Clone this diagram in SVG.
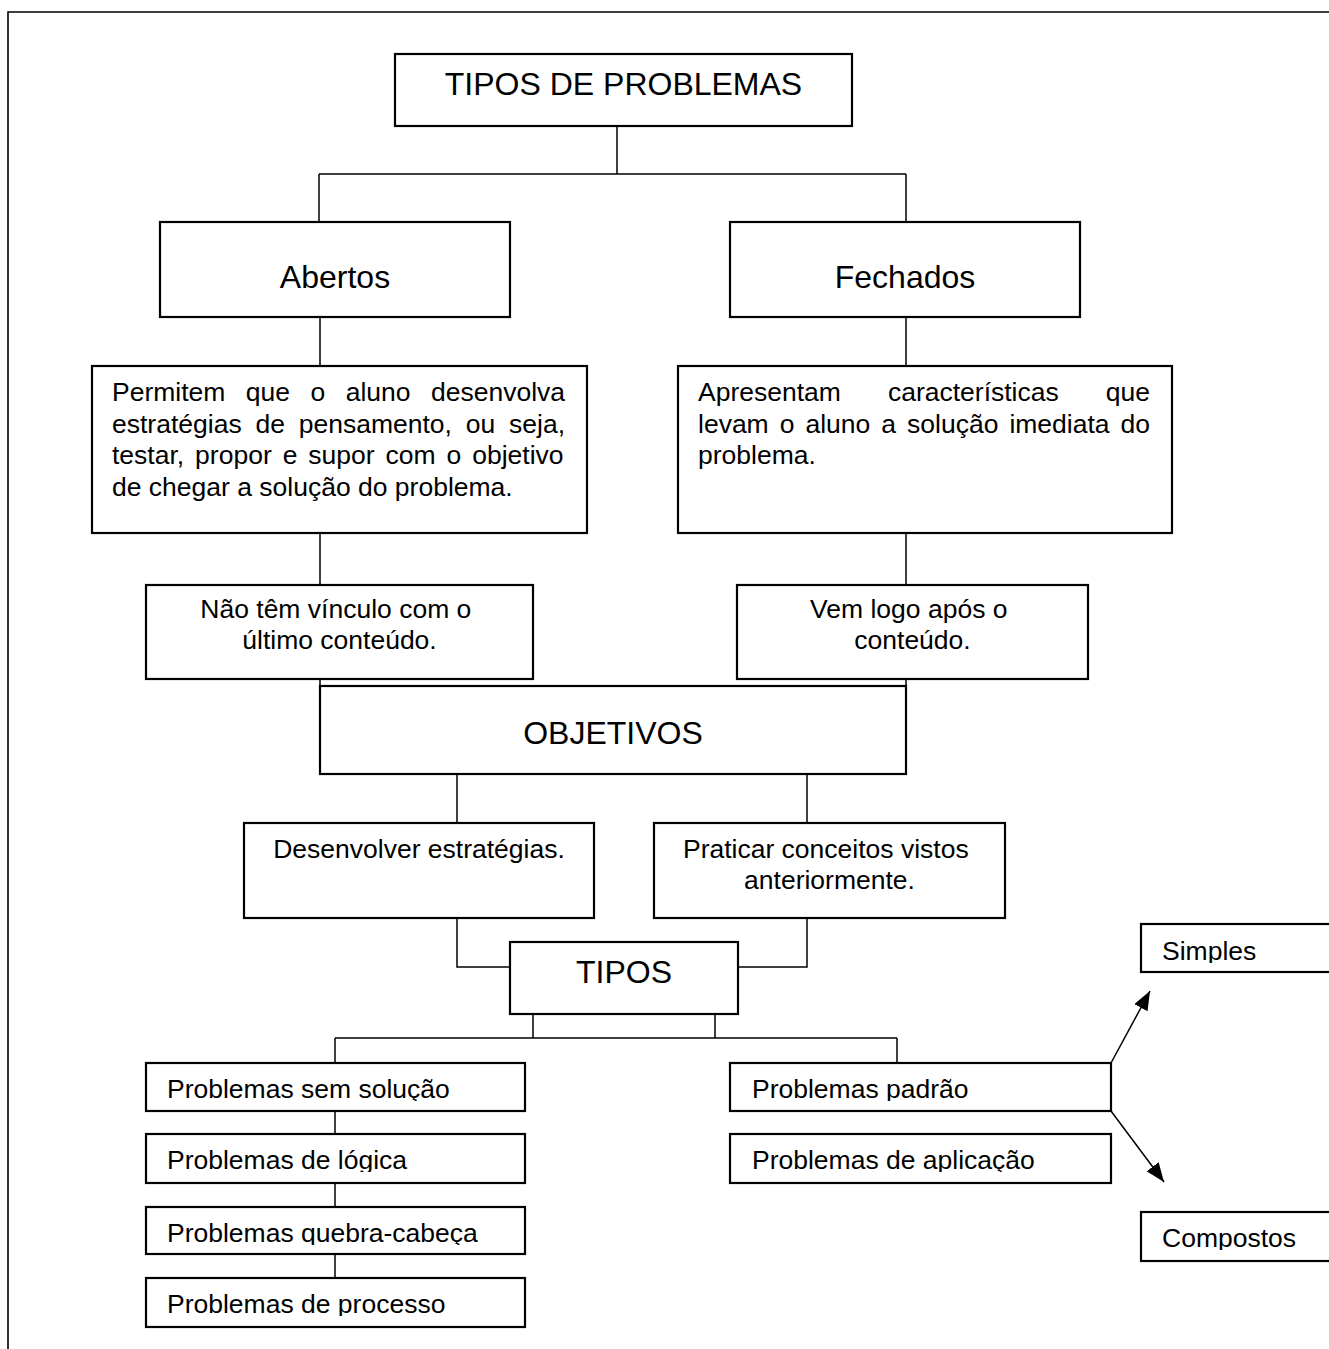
<svg xmlns="http://www.w3.org/2000/svg" width="1329" height="1349" viewBox="0 0 1329 1349">
  <style>
    .box { fill: #fff; stroke: #000; stroke-width: 2.2; }
    .wire { fill: none; stroke: #000; stroke-width: 1.5; }
    .frame { fill: none; stroke: #000; stroke-width: 1.6; }
    .big { font-family: "Liberation Sans", Arial, sans-serif; font-size: 32px; fill: #000; text-anchor: middle; }
    .body { font-family: "Liberation Sans", Arial, sans-serif; font-size: 26.5px; fill: #000; }
    .mid { text-anchor: middle; }
  </style>
  <defs>
    <marker id="arrowhead" markerUnits="userSpaceOnUse" markerWidth="22" markerHeight="16" refX="19" refY="7.5" orient="auto">
      <path d="M0,0 L19,7.5 L0,15 z" fill="#000"/>
    </marker>
    <!-- single-line boxes cut off their descenders -->
    <clipPath id="cut-r1" clipPathUnits="userSpaceOnUse"><rect x="0" y="1063" width="1329" height="38"/></clipPath>
    <clipPath id="cut-r2" clipPathUnits="userSpaceOnUse"><rect x="0" y="1134" width="1329" height="38"/></clipPath>
    <clipPath id="cut-r3" clipPathUnits="userSpaceOnUse"><rect x="0" y="1207" width="1329" height="38"/></clipPath>
    <clipPath id="cut-r4" clipPathUnits="userSpaceOnUse"><rect x="0" y="1278" width="1329" height="38"/></clipPath>
    <clipPath id="cut-simples" clipPathUnits="userSpaceOnUse"><rect x="0" y="924" width="1329" height="39"/></clipPath>
    <clipPath id="cut-compostos" clipPathUnits="userSpaceOnUse"><rect x="0" y="1212" width="1329" height="38"/></clipPath>
  </defs>

  <rect width="1329" height="1349" fill="#fff"/>
  <!-- page frame, open to the right and bottom -->
  <path class="frame" d="M8,1349 V12 H1329"/>

  <g id="connectors">
    <path class="wire" d="M617,126 V174 M319,174 H906 M319,174 V222 M906,174 V222"/>
    <path class="wire" d="M320,317 V366 M906,317 V366"/>
    <path class="wire" d="M320,533 V585 M906,533 V585"/>
    <path class="wire" d="M320,679 V686 M906,679 V686"/>
    <path class="wire" d="M457,774 V823 M807,774 V823"/>
    <path class="wire" d="M457,918 V967 H510 M807,918 V967 H738"/>
    <path class="wire" d="M533,1014 V1038 M715,1014 V1038 M335,1038 H897 M335,1038 V1063 M897,1038 V1063"/>
    <path class="wire" d="M335,1111 V1134 M335,1183 V1207 M335,1254 V1278"/>
    <line class="wire" x1="1111" y1="1063" x2="1150" y2="991" marker-end="url(#arrowhead)"/>
    <line class="wire" x1="1111" y1="1111" x2="1164" y2="1182" marker-end="url(#arrowhead)"/>
  </g>

  <g id="tipos-de-problemas">
    <rect class="box" x="395" y="54" width="457" height="72"/>
    <text class="big" x="623.5" y="95">TIPOS DE PROBLEMAS</text>
  </g>

  <g id="abertos">
    <rect class="box" x="160" y="222" width="350" height="95"/>
    <text class="big" x="335" y="287.5">Abertos</text>
  </g>

  <g id="fechados">
    <rect class="box" x="730" y="222" width="350" height="95"/>
    <text class="big" x="905" y="287.5">Fechados</text>
  </g>

  <g id="abertos-descricao">
    <rect class="box" x="92" y="366" width="495" height="167"/>
    <text class="body">
      <tspan x="112" y="401" style="word-spacing:13.08px">Permitem que o aluno desenvolva</tspan>
      <tspan x="112" y="432.5" style="word-spacing:6.46px">estratégias de pensamento, ou seja,</tspan>
      <tspan x="112" y="464" style="word-spacing:3.57px">testar, propor e supor com o objetivo</tspan>
      <tspan x="112" y="495.5">de chegar a solução do problema.</tspan>
    </text>
  </g>

  <g id="fechados-descricao">
    <rect class="box" x="678" y="366" width="494" height="167"/>
    <text class="body">
      <tspan x="698" y="401" style="word-spacing:39.68px">Apresentam características que</tspan>
      <tspan x="698" y="432.5" style="word-spacing:3.65px">levam o aluno a solução imediata do</tspan>
      <tspan x="698" y="464">problema.</tspan>
    </text>
  </g>

  <g id="sem-vinculo">
    <rect class="box" x="146" y="585" width="387" height="94"/>
    <text class="body mid">
      <tspan x="339.5" y="618">Não têm vínculo com o</tspan>
      <tspan x="339.5" y="649">último conteúdo.</tspan>
    </text>
  </g>

  <g id="apos-conteudo">
    <rect class="box" x="737" y="585" width="351" height="94"/>
    <text class="body mid">
      <tspan x="912.5" y="618">Vem logo após o</tspan>
      <tspan x="912.5" y="649">conteúdo.</tspan>
    </text>
  </g>

  <g id="objetivos">
    <rect class="box" x="320" y="686" width="586" height="88"/>
    <text class="big" x="613" y="743.5">OBJETIVOS</text>
  </g>

  <g id="desenvolver">
    <rect class="box" x="244" y="823" width="350" height="95"/>
    <text class="body mid" x="419" y="858">Desenvolver estratégias.</text>
  </g>

  <g id="praticar">
    <rect class="box" x="654" y="823" width="351" height="95"/>
    <text class="body mid">
      <tspan x="829.5" y="858">Praticar conceitos vistos</tspan>
      <tspan x="829.5" y="889">anteriormente.</tspan>
    </text>
  </g>

  <g id="tipos">
    <rect class="box" x="510" y="942" width="228" height="72"/>
    <text class="big" x="624" y="983">TIPOS</text>
  </g>

  <g id="sem-solucao">
    <rect class="box" x="146" y="1063" width="379" height="48"/>
    <text class="body" x="167" y="1098" clip-path="url(#cut-r1)">Problemas sem solução</text>
  </g>

  <g id="logica">
    <rect class="box" x="146" y="1134" width="379" height="49"/>
    <text class="body" x="167" y="1169" clip-path="url(#cut-r2)">Problemas de lógica</text>
  </g>

  <g id="quebra-cabeca">
    <rect class="box" x="146" y="1207" width="379" height="47"/>
    <text class="body" x="167" y="1242" clip-path="url(#cut-r3)">Problemas quebra-cabeça</text>
  </g>

  <g id="processo">
    <rect class="box" x="146" y="1278" width="379" height="49"/>
    <text class="body" x="167" y="1313" clip-path="url(#cut-r4)">Problemas de processo</text>
  </g>

  <g id="padrao">
    <rect class="box" x="730" y="1063" width="381" height="48"/>
    <text class="body" x="752" y="1098" clip-path="url(#cut-r1)">Problemas padrão</text>
  </g>

  <g id="aplicacao">
    <rect class="box" x="730" y="1134" width="381" height="49"/>
    <text class="body" x="752" y="1169" clip-path="url(#cut-r2)">Problemas de aplicação</text>
  </g>

  <g id="simples">
    <rect class="box" x="1141" y="924" width="200" height="48"/>
    <text class="body" x="1162" y="960" clip-path="url(#cut-simples)">Simples</text>
  </g>

  <g id="compostos">
    <rect class="box" x="1141" y="1212" width="200" height="49"/>
    <text class="body" x="1162" y="1247" clip-path="url(#cut-compostos)">Compostos</text>
  </g>
</svg>
